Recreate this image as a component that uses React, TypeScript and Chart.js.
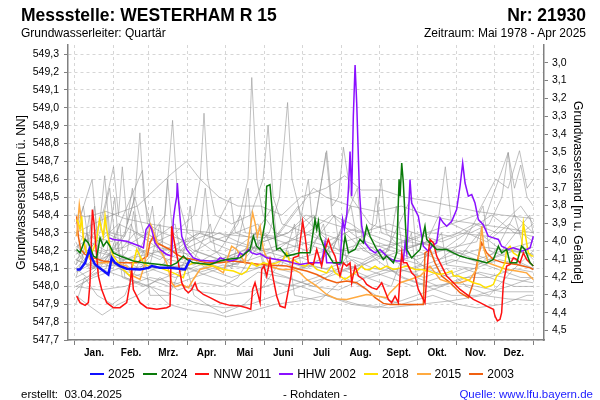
import React, { useEffect, useRef } from "react";
import { Chart, registerables } from "chart.js";
Chart.register(...registerables);

const FONT = "'Liberation Sans', Arial, sans-serif";

// ---- axes ----
const MONTH_STARTS = [0, 31, 59, 90, 120, 151, 181, 212, 243, 273, 304, 334, 365];
const MONTH_LABELS = ["Jan.", "Feb.", "Mrz.", "Apr.", "Mai", "Juni", "Juli", "Aug.", "Sept.", "Okt.", "Nov.", "Dez."];
const LEFT_TICKS = [547.7, 547.8, 547.9, 548.0, 548.1, 548.2, 548.3, 548.4, 548.5, 548.6, 548.7, 548.8, 548.9, 549.0, 549.1, 549.2, 549.3];
const RIGHT_TICKS = [3.0, 3.1, 3.2, 3.3, 3.4, 3.5, 3.6, 3.7, 3.8, 3.9, 4.0, 4.1, 4.2, 4.3, 4.4, 4.5];
const Y_MIN = 547.7;
const Y_MAX = 549.352;
const GROUND = 552.253; // Geländehöhe [m ü. NN]
const X_MIN = -5.2;
const X_MAX = 373.5;

// ---- highlighted years: [day of year, level m ü. NN] ----
const y2025 = [[1.7,548.095],[4.4,548.095],[8.4,548.132],[11.8,548.207],[13.7,548.16],[16.3,548.123],[21.6,548.095],[26.9,548.067],[29.6,548.16],[32.2,548.132],[36.2,548.114],[41.5,548.099],[52.1,548.095],[58.7,548.104],[61.4,548.114],[68,548.104],[76,548.104],[87.9,548.095],[91.9,548.151]];

const y2024 = [[1.7,548.207],[4.4,548.188],[8.4,548.263],[11,548.244],[15,548.17],[17.6,548.16],[20.3,548.272],[22.9,548.225],[25.6,548.253],[28.2,548.225],[30.9,548.188],[36.2,548.17],[46.8,548.142],[54.8,548.132],[68,548.123],[76,548.114],[81.3,548.132],[86.6,548.17],[89.2,548.151],[94.5,548.132],[107.8,548.123],[115.7,548.142],[121,548.151],[131.7,548.16],[139.6,548.207],[142.3,548.281],[144.9,548.225],[147.6,548.207],[151.5,548.356],[152.9,548.561],[155.5,548.57],[158.2,548.356],[160.8,548.207],[163.5,548.216],[168.8,548.17],[174.1,548.179],[179.4,548.188],[187.4,548.188],[191.3,548.374],[192.7,548.319],[194,548.365],[195.3,548.281],[199.3,548.207],[205.9,548.132],[212.5,548.132],[215.2,548.281],[217.9,548.188],[223.2,548.207],[227.1,548.263],[229.8,548.244],[232.4,548.337],[235.1,548.281],[240.4,548.207],[245.7,548.151],[248.3,548.17],[253.7,548.132],[256.3,548.188],[258.2,548.6],[259,548.505],[260.3,548.691],[261.6,548.579],[264.3,548.207],[268.2,548.16],[274.9,548.207],[278.8,548.337],[280.2,548.263],[282.8,548.244],[288.1,548.207],[296.1,548.207],[301.4,548.188],[306.7,548.17],[312,548.16],[317.3,548.151],[322.6,548.142],[327.9,548.132],[333.2,548.151],[337.2,548.225],[339.8,548.188],[343.8,548.207],[346.5,548.132],[351.8,548.132],[355.7,548.225],[358.4,548.207],[362.4,548.132],[365,548.114]];

const nnw2011 = [[1.7,547.946],[4.4,547.909],[8.4,547.894],[11,547.909],[12.3,548.021],[14.2,548.43],[15.5,548.356],[17.6,548.17],[19,548.058],[21.6,547.983],[25.6,547.909],[30.9,547.881],[36.2,547.881],[41.5,547.909],[44.2,548.021],[45.5,548.095],[46.8,547.983],[52.1,547.909],[57.4,547.881],[65.4,547.872],[73.3,547.881],[76,547.89],[77.3,548.337],[78.6,548.281],[80,548.225],[82.6,548.132],[85.3,548.021],[87.9,547.983],[90.6,547.965],[93.2,547.983],[95.9,548.021],[97.7,547.983],[102.5,547.955],[107.8,547.937],[115.7,547.909],[123.7,547.894],[131.7,547.89],[137,547.881],[140.2,547.872],[141.7,547.983],[143.6,548.021],[146.3,547.946],[147.6,547.909],[148.9,548.095],[150.8,548.114],[152.9,548.058],[155.5,548.151],[158.2,548.039],[160.8,547.946],[163.5,547.89],[167.5,547.881],[172,548.05],[174.1,548.16],[178.1,548.17],[181.5,548.365],[183.4,548.281],[186,548.132],[190,548.123],[192.7,548.207],[196.6,548.114],[199.3,548.207],[201.9,548.263],[204.6,548.207],[207.2,548.17],[211.2,548.058],[213.9,548.132],[216.5,548.114],[219.2,548.132],[220.5,548.021],[223.2,548.114],[225.8,548.058],[229.8,548.039],[232.4,548.011],[236.4,547.993],[240.4,547.983],[244.4,548.021],[249.7,547.927],[252.3,547.909],[255,547.946],[257.6,547.909],[260.3,548.188],[261.6,548.132],[264.3,548.132],[268.2,548.076],[270.9,548.058],[273.5,547.983],[276.2,547.946],[278.8,547.909],[281.5,548.188],[282.8,548.263],[285.5,548.244],[288.1,548.17],[290.8,548.132],[296.1,548.058],[301.4,548.021],[306.7,547.983],[312,547.955],[317.3,547.927],[322.6,547.909],[327.9,547.89],[333.2,547.872],[334.5,547.834],[336.4,547.807],[338.5,547.816],[339.8,547.853],[341.2,548.021],[343.8,548.114],[346.5,548.123],[349.1,548.16],[351.8,548.151],[354.4,548.132],[357.1,548.188],[359.7,548.151],[362.4,548.132],[365,548.114]];

const hhw2002 = [[27.7,548.272],[30.9,548.263],[41.5,548.253],[52.1,548.225],[54.8,548.216],[56.9,548.319],[59.5,548.346],[61.4,548.319],[64,548.244],[68,548.207],[73.3,548.179],[77.3,548.17],[78.6,548.374],[80,548.449],[81.3,548.505],[81.8,548.579],[82.9,548.467],[85.3,548.281],[89.2,548.207],[94.5,548.16],[99.8,548.147],[107.8,548.142],[113.1,548.142],[115.7,548.16],[119.7,548.151],[123.7,548.142],[129,548.151],[131.7,548.188],[134.3,548.174],[138.3,548.207],[141,548.188],[144.9,548.179],[147.6,548.184],[152.9,548.16],[160.8,548.151],[168.8,548.142],[174.1,548.132],[179.4,548.123],[187.4,548.132],[196.6,548.132],[199.3,548.244],[200.6,548.132],[205.9,548.132],[211.2,548.123],[213.3,548.374],[214.7,548.319],[216.5,548.393],[217.9,548.542],[219.2,548.756],[220.5,548.505],[221.8,548.952],[223.2,549.24],[224.5,549.026],[226.6,548.542],[228.5,548.337],[231.1,548.244],[235.1,548.207],[239.1,548.188],[243,548.207],[248.3,548.17],[252.3,548.151],[256.3,548.142],[261.6,548.142],[263,548.244],[264.3,548.188],[266.9,548.598],[268.2,548.467],[270.9,548.43],[273.5,548.393],[277.5,548.225],[281.5,548.197],[284.1,548.225],[288.1,548.244],[290.8,548.384],[293.4,548.356],[296.1,548.337],[300.1,548.365],[304,548.43],[306.7,548.561],[308.8,548.691],[310.7,548.579],[313.3,548.505],[316,548.514],[318.6,548.467],[321.3,548.374],[325.2,548.346],[329.2,548.281],[333.2,548.272],[337.2,548.263],[339.8,548.225],[345.1,548.207],[349.1,548.216],[353.1,548.207],[355.7,548.197],[359.7,548.207],[362.4,548.216],[365,548.281]];

const y2018 = [[1.7,548.374],[3,548.356],[4.4,548.319],[5.7,548.393],[7,548.263],[9.7,548.188],[12.3,548.17],[15,548.207],[17.6,548.263],[19.8,548.374],[21.6,548.319],[22.9,548.281],[24.3,548.393],[25.6,548.319],[28.2,548.225],[30.9,548.17],[34.9,548.132],[38.8,548.095],[44.2,548.058],[46.8,548.132],[49.5,548.207],[52.1,548.17],[54.8,548.132],[58.7,548.114],[68,548.104],[78.6,548.076],[83.9,548.058],[86.6,548.049],[89.2,548.114],[94.5,548.132],[102.5,548.123],[110.4,548.114],[118.4,548.095],[126.4,548.086],[133,548.067],[137,548.086],[141,548.132],[144.9,548.114],[150.2,548.132],[155.5,548.123],[160.8,548.132],[166.1,548.151],[168.8,548.188],[171.5,548.132],[174.1,548.151],[179.4,548.123],[183.4,548.114],[187.4,548.132],[190,548.114],[192.7,548.095],[200.6,548.076],[204.6,548.114],[207.2,548.076],[211.2,548.058],[215.2,548.039],[219.2,548.058],[223.2,548.076],[228.5,548.114],[231.1,548.095],[235.1,548.095],[239.1,548.114],[243,548.095],[248.3,548.114],[253.7,548.095],[259,548.104],[264.3,548.114],[270.9,548.095],[276.2,548.095],[281.5,548.086],[285.5,548.076],[290.8,548.067],[296.1,548.076],[300.1,548.086],[301.4,548.058],[305.4,548.058],[312,548.039],[317.3,548.021],[322.6,548.011],[326.6,547.993],[330.6,548.002],[333.2,548.011],[335.9,548.058],[338.5,548.076],[342.5,548.132],[343.8,548.207],[346.5,548.225],[349.1,548.188],[353.1,548.17],[355.7,548.225],[357.1,548.356],[358.4,548.3],[361,548.188],[363.7,548.17],[365,548.17]];

const y2015 = [[1.7,548.281],[3.8,548.458],[5.7,548.356],[8.4,548.207],[12.3,548.151],[20.3,548.132],[30.9,548.132],[41.5,548.114],[46.8,548.058],[52.1,548.039],[56.1,548.132],[58.7,548.281],[60.6,548.346],[62.7,548.309],[66.7,548.225],[73.3,548.132],[77.3,548.021],[79.9,547.998],[85.3,548.011],[90.6,547.993],[94.5,548.039],[99.8,548.095],[110.4,548.114],[118.4,548.076],[122.3,548.17],[125,548.225],[129,548.207],[135.6,548.132],[139.6,548.319],[141.7,548.412],[143.6,548.356],[145.5,548.281],[147.6,548.337],[150.2,548.207],[155.5,548.114],[163.5,548.095],[174.1,548.095],[179.4,548.076],[184.7,548.039],[192.7,548.002],[200.6,547.955],[208.6,547.93],[216.5,547.927],[224.5,547.941],[232.4,547.955],[240.4,547.946],[248.3,547.937],[251,547.965],[259,548.021],[267,548.039],[274.9,548.058],[282.8,548.114],[290.8,548.039],[298.7,548.021],[306.7,548.021],[314.6,548.039],[319.9,548.095],[322.6,548.225],[324,548.337],[325.8,548.207],[329.2,548.132],[335.9,548.114],[343.8,548.095],[351.8,548.086],[359.7,548.076],[365,548.039]];

const y2003 = [[1.7,548.393],[3,548.281],[4.9,548.207],[8.4,548.179],[15,548.16],[22.9,548.142],[33.6,548.132],[41.5,548.132],[49.5,548.132],[57.9,548.17],[60,548.244],[62.7,548.281],[65.4,548.244],[70.7,548.225],[76,548.207],[81.3,548.179],[86.6,548.16],[94.5,548.151],[105.1,548.132],[115.7,548.132],[126.4,548.142],[137,548.132],[147.6,548.123],[158.2,548.118],[168.8,548.114],[179.4,548.095],[184.7,548.086],[192.7,548.067],[200.6,548.039],[208.6,548.021],[216.5,548.03],[224.5,548.021],[232.4,547.983],[239.1,547.937],[245.7,547.905],[251,547.899],[269.6,547.899],[277.5,547.899],[278.8,548.188],[282.8,548.207],[286.8,548.132],[292.1,548.058],[298.7,548.021],[306.7,547.965],[313.3,547.937],[317.3,548.021],[321.3,548.17],[323.9,548.244],[327.9,548.188],[333.2,548.151],[341.2,548.132],[351.8,548.123],[362.4,548.104],[365,548.095]];

// ---- other years (grey background), [day of year, level] ----
const grey01 = [[1,548.15],[10,548.2],[25,548.3],[40,548.25],[55,548.2],[75,548.15],[95,548.12],[115,548.2],[130,548.35],[138,548.6],[141,549.17],[145,548.6],[150,548.4],[160,548.3],[180,548.25],[200,548.2],[215,548.3],[230,548.2],[250,548.15],[270,548.1],[290,548.15],[310,548.2],[330,548.15],[350,548.2],[365,548.18]];
const grey02 = [[1,548.05],[15,548.1],[30,548.2],[45,548.15],[60,548.1],[80,548.05],[100,548.1],[120,548.15],[140,548.2],[155,548.3],[163,548.5],[169.5,549.03],[173,548.6],[180,548.4],[195,548.3],[210,548.2],[230,548.1],[250,548.05],[270,548.0],[290,548.05],[310,548.1],[330,548.05],[350,548.0],[365,548.0]];
const grey03 = [[1,548.2],[8,548.3],[20,548.25],[35,548.35],[50,548.3],[65,548.25],[80,548.3],[95,548.4],[100,548.6],[103,548.97],[106,548.6],[112,548.4],[125,548.35],[140,548.4],[150,548.6],[154,548.9],[158,548.5],[165,548.35],[185,548.3],[205,548.4],[220,548.35],[240,548.25],[260,548.2],[280,548.25],[300,548.2],[320,548.15],[340,548.2],[365,548.25]];
const grey04 = [[1,548.1],[10,548.05],[25,548.15],[40,548.3],[48,548.5],[52,548.86],[55,548.5],[62,548.3],[72,548.4],[78,548.93],[82,548.5],[90,548.3],[110,548.2],[130,548.15],[150,548.1],[170,548.05],[190,548.0],[210,548.1],[225,548.25],[240,548.15],[260,548.05],[280,548.0],[300,547.95],[320,547.95],[345,548.0],[365,548.05]];
const grey05 = [[1,548.35],[5,548.4],[14,548.6],[18,548.3],[24,548.45],[31,548.67],[35,548.4],[38,548.67],[42,548.35],[48,548.5],[55,548.3],[70,548.25],[85,548.2],[100,548.25],[115,548.3],[130,548.25],[150,548.2],[170,548.25],[190,548.3],[200,548.75],[205,548.4],[220,548.3],[240,548.2],[260,548.15],[290,548.2],[320,548.25],[345,548.75],[350,548.4],[365,548.3]];
const grey06 = [[1,548.4],[10,548.39],[25,548.42],[40,548.38],[60,548.35],[85,548.32],[110,548.3],[135,548.28],[160,548.27],[185,548.5],[190,548.55],[200,548.5],[220,548.45],[240,548.42],[260,548.45],[280,548.4],[300,548.37],[320,548.35],[340,548.33],[365,548.3]];
const grey07 = [[1,548.3],[15,548.35],[30,548.4],[50,548.45],[65,548.55],[77,548.63],[89,548.7],[100,548.6],[115,548.5],[130,548.45],[148,548.45],[165,548.4],[180,548.5],[200,548.55],[215,548.62],[228,548.54],[245,548.54],[262,548.5],[280,548.48],[300,548.45],[320,548.42],[340,548.4],[365,548.38]];
const grey08 = [[1,548.0],[15,548.05],[35,548.1],[55,548.05],[75,548.0],[95,548.05],[115,548.1],[140,548.15],[160,548.2],[180,548.3],[192,548.4],[200.6,548.76],[205,548.45],[210,548.5],[213.9,548.78],[220,548.5],[235,548.35],[255,548.3],[275,548.25],[295,548.2],[315,548.15],[335,548.1],[355,548.05],[365,548.05]];
const grey09 = [[1,548.15],[20,548.1],[40,548.05],[60,548.0],[80,547.95],[100,547.9],[120,547.88],[140,547.9],[160,547.95],[180,548.0],[200,548.05],[220,548.1],[240,548.15],[260,548.2],[280,548.25],[290,548.4],[295,548.67],[300,548.35],[315,548.3],[330,548.35],[340,548.5],[345,548.75],[350,548.55],[355,548.68],[360,548.5],[365,548.45]];
const grey10 = [[1,547.95],[10,547.9],[22,547.84],[35,547.9],[50,547.95],[60,548.0],[75,547.9],[90,547.87],[110,547.85],[121,547.83],[140,547.86],[160,547.9],[180,547.92],[200,547.95],[225,547.9],[250,547.88],[275,547.9],[300,547.92],[325,547.95],[345,547.93],[365,547.92]];
const grey11 = [[1,548.05],[6,548.15],[12,548.4],[15,548.1],[26,548.2],[32,548.5],[36,548.15],[45,548.1],[58,548.3],[62,548.45],[66,548.2],[80,548.1],[95,548.15],[108,548.35],[112,548.2],[125,548.1],[135,548.4],[138,548.55],[142,548.2],[160,548.15],[175,548.2],[186,548.6],[190,548.3],[205,548.2],[225,548.55],[229,548.25],[245,548.15],[268,548.5],[272,548.2],[290,548.15],[310,548.25],[325,548.45],[330,548.2],[350,548.15],[365,548.1]];
const grey12 = [[1,547.9],[8,548.05],[18,547.95],[30,547.9],[40,547.95],[55,548.2],[60,547.95],[75,547.95],[88,548.15],[95,547.95],[105,547.9],[118,547.85],[135,547.9],[150,548.0],[170,548.2],[175,547.95],[195,547.92],[215,548.05],[240,547.95],[260,547.9],[285,547.95],[305,547.9],[320,547.88],[340,547.9],[360,547.95],[365,547.95]];
const grey13 = [[1,548.2],[12,548.1],[28,548.15],[45,548.05],[65,548.1],[85,548.2],[105,548.1],[125,548.05],[145,548.1],[165,548.15],[185,548.1],[205,548.2],[220,548.45],[225,548.25],[240,548.35],[244,548.6],[248,548.3],[262,548.2],[280,548.1],[298,548.05],[318,548.1],[335,548.2],[350,548.4],[358,548.2],[365,548.15]];
const grey14 = [[1,548.25],[8,548.15],[20,548.3],[28,548.55],[33,548.2],[45,548.35],[52,548.2],[68,548.15],[85,548.25],[100,548.15],[118,548.1],[135,548.15],[152,548.3],[160,548.15],[178,548.1],[195,548.15],[212,548.3],[218,548.1],[235,548.05],[258,548.1],[278,548.05],[296,548.1],[312,548.0],[330,547.95],[350,548.1],[365,548.2]];
const grey15 = [[1,548.1],[15,548.2],[40,548.15],[70,548.2],[100,548.3],[120,548.25],[150,548.2],[175,548.15],[200,548.2],[230,548.15],[260,548.25],[280,548.3],[300,548.35],[320,548.4],[335,548.6],[345,548.55],[354,548.76],[360,548.55],[365,548.6]];
const grey16 = [[1,548.0],[20,547.98],[40,548.0],[60,548.05],[80,548.02],[100,547.97],[120,547.95],[140,547.97],[160,548.02],[180,548.0],[200,547.95],[220,547.9],[240,547.88],[260,547.92],[280,547.97],[300,548.02],[320,548.0],[340,547.97],[365,547.97]];
const grey17 = [[1,548.12],[10,548.3],[14,548.1],[30,548.12],[50,548.18],[70,548.25],[74,548.6],[78,548.3],[95,548.2],[115,548.15],[135,548.2],[158,548.45],[162,548.2],[185,548.15],[198,548.35],[204,548.15],[225,548.1],[250,548.2],[256,548.45],[262,548.15],[285,548.1],[305,548.15],[322,548.3],[340,548.2],[362,548.4],[365,548.3]];
const grey18 = [[1,548.3],[12,548.25],[25,548.2],[40,548.22],[58,548.3],[75,548.2],[92,548.18],[108,548.25],[125,548.2],[145,548.3],[165,548.25],[185,548.2],[207,548.4],[211,548.2],[232,548.25],[252,548.2],[272,548.15],[292,548.2],[312,548.3],[328,548.25],[346,548.35],[365,548.25]];
const grey19 = [[1,548.02],[18,548.08],[34,548.25],[38,548.05],[55,548.0],[72,548.05],[90,548.1],[110,548.05],[130,548.0],[146,548.08],[168,548.05],[190,548.0],[210,547.98],[232,548.05],[252,548.0],[268,548.3],[272,548.05],[290,548.0],[310,548.05],[330,548.05],[350,548.1],[365,548.08]];
const grey20 = [[1,548.18],[6,548.2],[20,548.15],[36,548.2],[48,548.3],[60,548.25],[80,548.35],[84,548.2],[100,548.3],[104,548.55],[108,548.25],[128,548.3],[146,548.35],[150,548.25],[170,548.3],[190,548.4],[196,548.3],[215,548.25],[236,548.3],[240,548.5],[244,548.3],[264,548.25],[284,548.3],[300,548.28],[318,548.35],[336,548.3],[356,548.3],[365,548.35]];
const grey21 = [[1,548.28],[7,548.45],[11,548.25],[20,548.35],[24,548.62],[28,548.3],[40,548.28],[46,548.55],[50,548.3],[65,548.22],[80,548.2],[98,548.3],[120,548.25],[132,548.4],[136,548.3],[160,548.28],[178,548.45],[182,548.3],[200,548.25],[222,548.32],[240,548.28],[262,548.22],[285,548.25],[305,548.3],[330,548.28],[355,548.45],[365,548.35]];
const grey22 = [[1,548.12],[9,548.2],[16,548.45],[19,548.15],[30,548.1],[42,548.2],[47,548.42],[52,548.15],[70,548.1],[86,548.12],[100,548.08],[118,548.12],[140,548.1],[165,548.12],[175,548.35],[180,548.12],[200,548.1],[222,548.15],[238,548.1],[258,548.08],[275,548.12],[292,548.3],[296,548.12],[318,548.1],[338,548.15],[356,548.12],[365,548.1]];
const grey23 = [[1,547.98],[12,548.05],[25,548.1],[36,548.35],[40,548.05],[58,548.0],[68,548.05],[82,547.98],[100,548.02],[118,548.0],[130,548.05],[148,548.25],[152,548.05],[170,548.0],[192,548.05],[210,548.1],[230,548.05],[250,548.1],[262,548.05],[282,548.0],[302,548.02],[322,548.08],[342,548.05],[365,548.02]];
const grey24 = [[1,548.22],[14,548.28],[30,548.25],[54,548.65],[58,548.35],[70,548.3],[90,548.25],[110,548.3],[124,548.5],[128,548.3],[150,548.25],[170,548.3],[184,548.4],[205,548.35],[228,548.3],[250,548.35],[270,548.3],[292,548.25],[310,548.3],[332,548.4],[350,548.3],[365,548.28]];
const grey25 = [[1,548.08],[20,548.15],[26,548.4],[29,548.12],[44,548.1],[60,548.12],[68,548.35],[72,548.12],[92,548.1],[112,548.15],[130,548.12],[144,548.3],[150,548.12],[172,548.08],[188,548.12],[208,548.08],[226,548.12],[246,548.2],[250,548.1],[270,548.08],[300,548.15],[320,548.12],[345,548.2],[365,548.18]];
const grey26 = [[1,548.15],[10,548.12],[22,548.2],[38,548.15],[52,548.1],[64,548.2],[86,548.15],[92,548.45],[96,548.2],[116,548.15],[140,548.22],[162,548.2],[188,548.25],[214,548.2],[238,548.22],[266,548.25],[290,548.22],[310,548.18],[326,548.22],[344,548.2],[365,548.22]];

const GREY_SERIES = [grey01, grey02, grey03, grey04, grey05, grey06, grey07, grey08, grey09, grey10, grey11, grey12, grey13, grey14, grey15, grey16, grey17, grey18, grey19, grey20, grey21, grey22, grey23, grey24, grey25, grey26];

const SERIES_NAMES = ["2025", "2024", "NNW 2011", "HHW 2002", "2018", "2015", "2003"];
const SERIES_DATA = [y2025, y2024, nnw2011, hhw2002, y2018, y2015, y2003];
const SERIES_COLORS = ["#1010ff", "#0a7a0a", "#ff1010", "#8a10ff", "#ffe000", "#ffaa40", "#f06010"];
const SERIES_WIDTHS = [2.5, 1.5, 1.5, 1.5, 1.5, 1.5, 1.5];

const BOUNDARY_SET = new Set(MONTH_STARTS);
const MID_DAYS = MONTH_STARTS.slice(0, 12).map((s, i) => (s + MONTH_STARTS[i + 1]) / 2);

export default function App() {
  const ref = useRef<HTMLCanvasElement | null>(null);

  useEffect(() => {
    if (!ref.current) return;
    const toXY = (arr: number[][]) => arr.map(([x, y]) => ({ x, y }));
    const colored = SERIES_DATA.map((d, i) => ({
      label: SERIES_NAMES[i],
      data: toXY(d),
      borderColor: SERIES_COLORS[i],
      borderWidth: SERIES_WIDTHS[i],
      pointRadius: 0,
      fill: false,
      tension: 0,
      yAxisID: "y",
    }));
    const greys = GREY_SERIES.map((d, i) => ({
      label: "grey" + i,
      data: toXY(d),
      borderColor: "rgba(150,150,150,0.6)",
      borderWidth: 1,
      pointRadius: 0,
      fill: false,
      tension: 0,
      yAxisID: "y",
    }));

    const tickFont = { family: FONT, size: 10.5 };
    const chart = new Chart(ref.current, {
      type: "line",
      data: { datasets: [...colored, ...greys] as any },
      options: {
        animation: false,
        responsive: false,
        devicePixelRatio: 1,
        layout: { padding: { top: 45, left: 0, right: 0, bottom: 0 } },
        plugins: { legend: { display: false }, tooltip: { enabled: false } },
        scales: {
          x: {
            type: "linear",
            min: X_MIN,
            max: X_MAX,
            afterBuildTicks: (s: any) => {
              s.ticks = [...MONTH_STARTS, ...MID_DAYS]
                .sort((a, b) => a - b)
                .map((v) => ({ value: v }));
            },
            afterFit: (s: any) => {
              s.height = 60;
            },
            ticks: {
              autoSkip: false,
              maxRotation: 0,
              minRotation: 0,
              padding: 2,
              color: "#000",
              font: { family: FONT, size: 10, weight: "bold" },
              callback: (v: any) => {
                const i = MID_DAYS.indexOf(Number(v));
                return i >= 0 ? MONTH_LABELS[i] : "";
              },
            },
            grid: {
              color: (c: any) => (c.tick && BOUNDARY_SET.has(c.tick.value) ? "#d6d6d6" : "rgba(0,0,0,0)"),
              tickColor: (c: any) => (c.tick && BOUNDARY_SET.has(c.tick.value) ? "#808080" : "rgba(0,0,0,0)"),
              tickLength: 5,
              lineWidth: 1,
            },
            border: { color: "#808080", width: 1.5, dash: [3, 3] },
          },
          y: {
            type: "linear",
            position: "left",
            min: Y_MIN,
            max: Y_MAX,
            afterBuildTicks: (s: any) => {
              s.ticks = LEFT_TICKS.map((v) => ({ value: v }));
            },
            afterFit: (s: any) => {
              s.width = 68;
            },
            ticks: {
              padding: 5,
              color: "#000",
              font: tickFont,
              callback: (v: any) => Number(v).toFixed(1).replace(".", ","),
            },
            grid: { color: "#d6d6d6", tickColor: "#808080", tickLength: 4, lineWidth: 1 },
            border: { color: "#808080", width: 1.5, dash: [3, 3] },
            title: {
              display: true,
              text: "Grundwasserstand [m ü. NN]",
              color: "#000",
              font: { family: FONT, size: 12 },
              padding: { top: 14, bottom: 0 },
            },
          },
          y2: {
            type: "linear",
            position: "right",
            reverse: true,
            min: GROUND - Y_MAX,
            max: GROUND - Y_MIN,
            afterBuildTicks: (s: any) => {
              s.ticks = RIGHT_TICKS.map((v) => ({ value: v }));
            },
            afterFit: (s: any) => {
              s.width = 56;
            },
            ticks: {
              padding: 4,
              color: "#000",
              font: tickFont,
              callback: (v: any) => Number(v).toFixed(1).replace(".", ","),
            },
            grid: { drawOnChartArea: false, tickColor: "#808080", tickLength: 4 },
            border: { color: "#808080", width: 1.5 },
            title: {
              display: true,
              text: "Grundwasserstand [m u. Gelände]",
              color: "#000",
              font: { family: FONT, size: 12 },
              padding: { top: 15, bottom: 0 },
            },
          },
        },
      } as any,
    });
    return () => chart.destroy();
  }, []);

  const abs = (extra: React.CSSProperties): React.CSSProperties => ({
    position: "absolute",
    fontFamily: FONT,
    color: "#000",
    whiteSpace: "pre",
    ...extra,
  });

  return (
    <div style={{ position: "fixed", left: 0, top: 0, width: 600, height: 400, background: "#fff", overflow: "hidden" }}>
      <canvas ref={ref} width={600} height={400} style={{ position: "absolute", left: 0, top: 0, width: 600, height: 400 }} />
      <div style={abs({ left: 21, top: 5, fontSize: 17.5, fontWeight: "bold", lineHeight: "20px" })}>Messstelle: WESTERHAM R 15</div>
      <div style={abs({ right: 14, top: 5, fontSize: 17.5, fontWeight: "bold", lineHeight: "20px" })}>Nr: 21930</div>
      <div style={abs({ left: 21, top: 26, fontSize: 12, lineHeight: "14px" })}>Grundwasserleiter: Quartär</div>
      <div style={abs({ right: 14, top: 26, fontSize: 12, lineHeight: "14px" })}>Zeitraum: Mai 1978 - Apr 2025</div>

      <div style={abs({ left: 90, top: 366, height: 16, display: "flex", alignItems: "center", fontSize: 12, lineHeight: "16px" })}>
        {SERIES_NAMES.map((n, i) => (
          <div key={n} style={{ display: "flex", alignItems: "center", marginRight: 8 }}>
            <div style={{ width: 14, height: i === 0 ? 2.5 : 1.5, background: SERIES_COLORS[i], marginRight: 4 }} />
            <span>{n}</span>
          </div>
        ))}
      </div>

      <div style={abs({ left: 21, top: 387, fontSize: 11.5, lineHeight: "14px" })}>{"erstellt:  03.04.2025"}</div>
      <div style={abs({ left: 250, width: 130, textAlign: "center", top: 387, fontSize: 11.5, lineHeight: "14px" })}>- Rohdaten -</div>
      <div style={abs({ right: 7, top: 387, fontSize: 11.5, lineHeight: "14px", color: "#1a1aff" })}>Quelle: www.lfu.bayern.de</div>
    </div>
  );
}
